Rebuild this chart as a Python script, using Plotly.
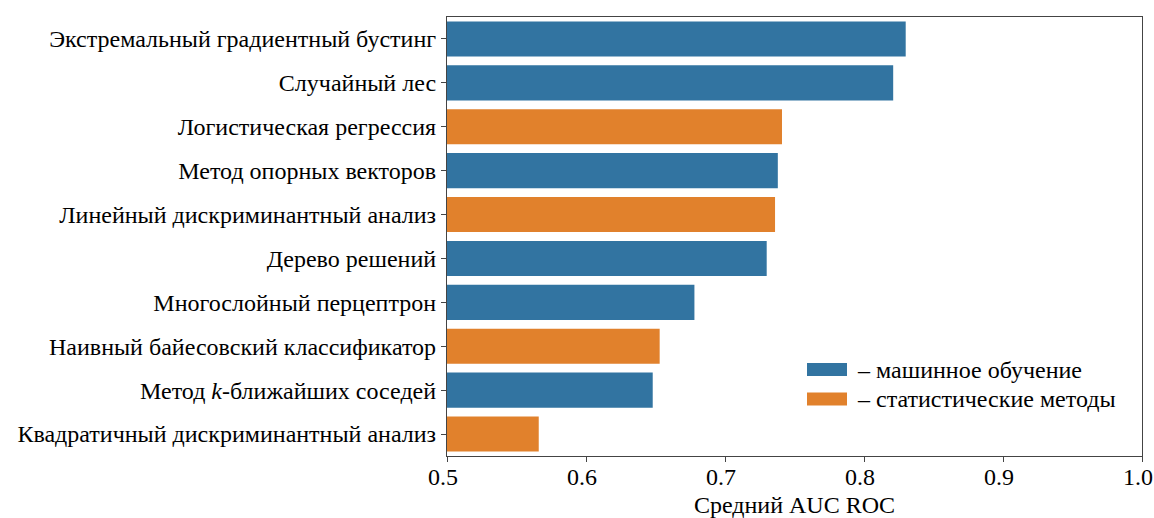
import plotly.graph_objects as go

categories = [
    "Экстремальный градиентный бустинг",
    "Случайный лес",
    "Логистическая регрессия",
    "Метод опорных векторов",
    "Линейный дискриминантный анализ",
    "Дерево решений",
    "Многослойный перцептрон",
    "Наивный байесовский классификатор",
    "Метод <i>k</i>-ближайших соседей",
    "Квадратичный дискриминантный анализ",
]
auc = [0.830, 0.821, 0.741, 0.738, 0.736, 0.730, 0.678, 0.653, 0.648, 0.566]
group = ["ml", "ml", "stat", "ml", "stat", "ml", "ml", "stat", "ml", "stat"]

series_order = ["ml", "stat"]
series_names = {"ml": "– машинное обучение", "stat": "– статистические методы"}
colors = {"ml": "#3274a1", "stat": "#e1812c"}
x_ticks = [0.5, 0.6, 0.7, 0.8, 0.9, 1.0]

FS = 24
fig = go.Figure()
for g in series_order:
    ys = [c for c, gg in zip(categories, group) if gg == g]
    xs = [v for v, gg in zip(auc, group) if gg == g]
    fig.add_trace(go.Bar(
        x=xs, y=ys, orientation="h", name=series_names[g],
        marker=dict(color=colors[g], line=dict(width=0)),
        width=0.8, showlegend=False,
    ))

# legend drawn as patches + text (wide rectangular patches as in reference)
L, R, T, B = 447, 1142, 17, 456
def px_x(p):
    return (p - L) / (R - L)
def px_y(p):
    return (B - p) / (B - T)

legend_rows = [369.5, 399.0]
for g, yc in zip(series_order, legend_rows):
    fig.add_shape(type="rect", xref="paper", yref="paper",
                  x0=px_x(807), x1=px_x(847), y0=px_y(yc + 6.5), y1=px_y(yc - 6.5),
                  fillcolor=colors[g], line=dict(width=0))
    fig.add_annotation(xref="paper", yref="paper", x=px_x(855), y=px_y(yc),
                       xanchor="left", yanchor="middle", showarrow=False,
                       text=series_names[g], font=dict(size=FS))

font_family = "Liberation Serif"
fig.update_layout(
    barmode="overlay",
    width=1154, height=518,
    margin=dict(l=L, r=1154 - R, t=T, b=518 - B),
    plot_bgcolor="white", paper_bgcolor="white",
    font=dict(family=font_family, size=FS, color="black"),
    showlegend=False,
    xaxis=dict(range=[0.5, 1.0], tickvals=x_ticks,
               ticktext=[f"{v:.1f}" for v in x_ticks], automargin=False,
               ticklabeloverflow="allow", ticklabelstandoff=-6, ticklabelshift=-4,
               showgrid=False, zeroline=False, showline=True, mirror=True,
               linecolor="#444", linewidth=1.2, ticks="outside", ticklen=5,
               tickcolor="#444", tickfont=dict(size=FS),
               title=dict(text="Средний AUC ROC", standoff=9, font=dict(size=FS))),
    yaxis=dict(categoryorder="array", categoryarray=categories,
               autorange=False, range=[9.5, -0.5], automargin=False,
               showgrid=False, zeroline=False, showline=True, mirror=True,
               linecolor="#444", linewidth=1.2, ticks="outside", ticklen=5,
               tickcolor="#444", tickfont=dict(size=FS)),
)
fig.write_html("out.html", config={"displayModeBar": False},
               post_script="document.body.style.margin='0';document.body.style.overflow='hidden';")
